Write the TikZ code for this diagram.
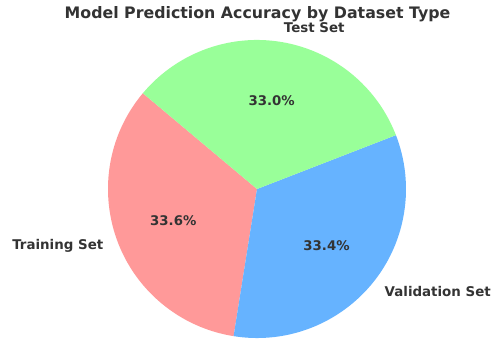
\documentclass[tikz,border=0pt]{standalone}
\usepackage{fontspec}
\setmainfont{DejaVu Sans}
\definecolor{trainred}{HTML}{FF9999}
\definecolor{valblue}{HTML}{66B3FF}
\definecolor{testgreen}{HTML}{99FF99}
\definecolor{textgray}{HTML}{333333}
\tikzset{
  slicelabel/.style={text=textgray, font=\fontsize{13.4}{15}\selectfont\bfseries, inner sep=0pt},
  pctlabel/.style={text=textgray, font=\fontsize{13.3}{15}\selectfont\bfseries, inner sep=0pt},
  charttitle/.style={text=textgray, font=\fontsize{15.8}{19}\selectfont\bfseries, inner sep=0pt}
}
\begin{document}
\begin{tikzpicture}[x=1pt, y=1pt]
  \useasboundingbox (0,0) rectangle (493,340);
  \coordinate (c) at (257,151);

  % Slices (start at 140 deg, counter-clockwise)
  \fill[trainred] (c) -- ++(140:149) arc[start angle=140, end angle=260.96, radius=149] -- cycle;
  \fill[valblue] (c) -- ++(260.96:149) arc[start angle=260.96, end angle=381.2, radius=149] -- cycle;
  \fill[testgreen] (c) -- ++(21.2:149) arc[start angle=21.2, end angle=140, radius=149] -- cycle;

  % Slice names
  \node[slicelabel, anchor=east] (train) at ([shift={(200.48:163.9)}]c) {Training Set};
  \node[slicelabel, anchor=west] (val) at ([shift={(321.08:163.9)}]c) {Validation Set};
  \node[slicelabel, anchor=west] (test) at ([shift={(80.6:163.9)}]c) {Test Set};

  % Percentages
  \node[pctlabel] (trainpct) at ([shift={(200.48:89.4)}]c) {33.6\%};
  \node[pctlabel] (valpct) at ([shift={(321.08:89.4)}]c) {33.4\%};
  \node[pctlabel] (testpct) at ([shift={(80.6:89.4)}]c) {33.0\%};

  % Title
  \node[charttitle] (title) at (257.5,326) {Model Prediction Accuracy by Dataset Type};
\end{tikzpicture}
\end{document}
